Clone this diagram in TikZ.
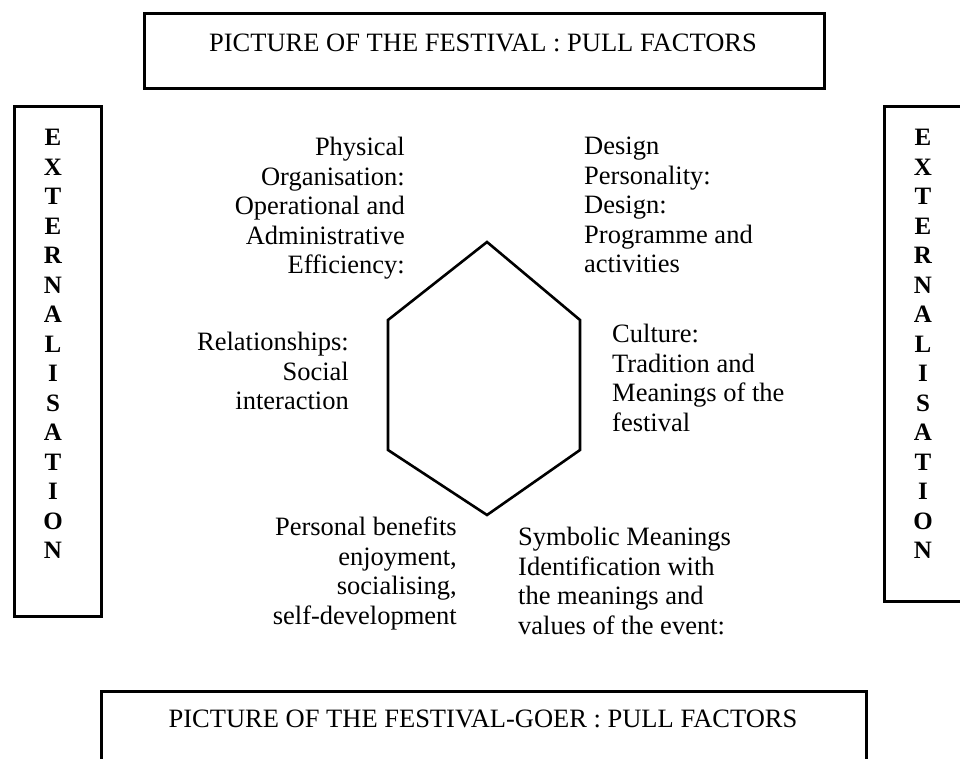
\documentclass[tikz,border=0pt]{standalone}
\usepackage{fontspec}
\setmainfont{Liberation Serif}
\begin{document}
\begin{tikzpicture}[x=1pt,y=-1pt,
  box/.style={draw, line width=3pt, inner sep=0pt},
  hexline/.style={line width=2.6pt, line join=miter},
  lbl/.style={font=\fontsize{26.5}{29.5}\selectfont, inner sep=0pt},
  vert/.style={font=\fontsize{25}{29.5}\selectfont\bfseries, inner sep=0pt, align=center}]
\useasboundingbox (0,0) rectangle (960,759);
\clip (0,0) rectangle (960,759);
% top box
\node[box, minimum width=680, minimum height=75, anchor=north west] (top) at (143,12) {};
\node[lbl, anchor=base] (toptext) at (483,52) {PICTURE OF THE FESTIVAL : PULL FACTORS};
% bottom box
\node[box, minimum width=765, minimum height=100, anchor=north west] (bot) at (100,690) {};
\node[lbl, anchor=base] (bottext) at (483,727) {PICTURE OF THE FESTIVAL-GOER : PULL FACTORS};
% side boxes
\node[box, minimum width=87, minimum height=510, anchor=north west] (left) at (13,105) {};
\node[vert, anchor=north] (lefttext) at (53,129) {E\\X\\T\\E\\R\\N\\A\\L\\I\\S\\A\\T\\I\\O\\N};
\node[box, minimum width=120, minimum height=495, anchor=north west] (right) at (883,105) {};
\node[vert, anchor=north] (righttext) at (923,129) {E\\X\\T\\E\\R\\N\\A\\L\\I\\S\\A\\T\\I\\O\\N};
% hexagon
\coordinate (h1) at (487,242);
\coordinate (h2) at (580,320);
\coordinate (h3) at (580,450);
\coordinate (h4) at (487,515);
\coordinate (h5) at (388,450);
\coordinate (h6) at (388,320);
\draw[hexline] (h1) -- (h2) -- (h3) -- (h4) -- (h5) -- (h6) -- cycle;
% labels
\node[lbl, align=right, anchor=north east] (phys) at (405,137)
  {Physical\\Organisation:\\Operational and\\Administrative\\Efficiency:};
\node[lbl, align=left, anchor=north west] (design) at (584,137)
  {Design\\Personality:\\Design:\\Programme and\\activities};
\node[lbl, align=right, anchor=north east] (rel) at (349,332)
  {Relationships:\\Social\\interaction};
\node[lbl, align=left, anchor=north west] (cult) at (612,324)
  {Culture:\\Tradition and\\Meanings of the\\festival};
\node[lbl, align=right, anchor=north east] (pers) at (457,517)
  {Personal benefits\\enjoyment,\\socialising,\\self-development};
\node[lbl, align=left, anchor=north west] (symb) at (518,527)
  {Symbolic Meanings\\Identification with\\the meanings and\\values of the event:};
\end{tikzpicture}
\end{document}
